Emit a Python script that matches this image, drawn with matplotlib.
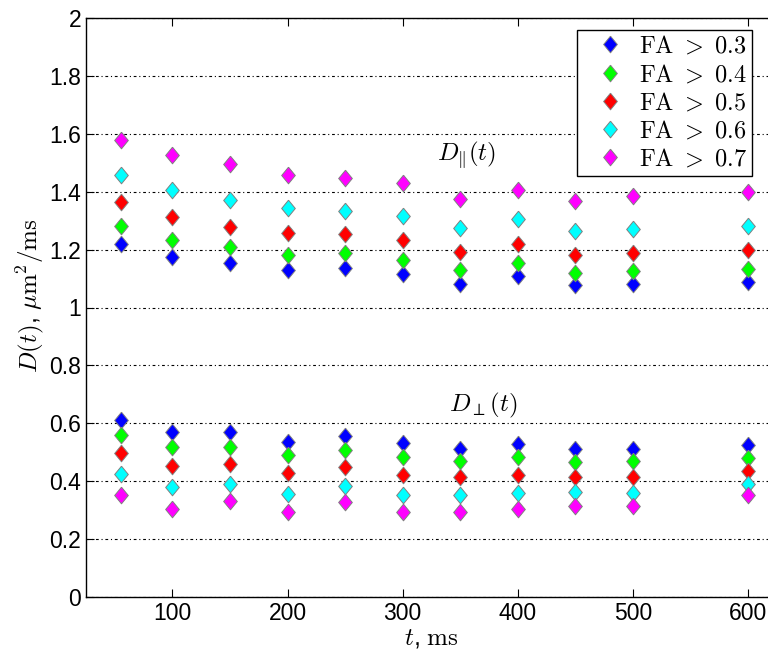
import matplotlib
matplotlib.use('Agg')
import matplotlib.pyplot as plt
import numpy as np

# diffusion time, ms
t = [55, 100, 150, 200, 250, 300, 350, 400, 450, 500, 600]

fa_labels = ['0.3', '0.4', '0.5', '0.6', '0.7']
colors = ['#0000ff', '#00ff00', '#ff0000', '#00ffff', '#ff00ff']

# parallel diffusivity D_par(t) for each FA threshold
d_par_03 = [1.221, 1.174, 1.155, 1.131, 1.137, 1.114, 1.082, 1.108, 1.076, 1.082, 1.088]
d_par_04 = [1.281, 1.233, 1.208, 1.183, 1.187, 1.163, 1.129, 1.155, 1.120, 1.126, 1.134]
d_par_05 = [1.364, 1.313, 1.279, 1.258, 1.255, 1.234, 1.191, 1.221, 1.183, 1.189, 1.198]
d_par_06 = [1.457, 1.406, 1.371, 1.345, 1.333, 1.317, 1.276, 1.304, 1.264, 1.272, 1.281]
d_par_07 = [1.579, 1.528, 1.497, 1.457, 1.449, 1.431, 1.374, 1.406, 1.368, 1.385, 1.399]

# perpendicular diffusivity D_perp(t)
d_perp_03 = [0.610, 0.569, 0.570, 0.536, 0.555, 0.532, 0.511, 0.528, 0.511, 0.511, 0.524]
d_perp_04 = [0.561, 0.518, 0.518, 0.489, 0.509, 0.483, 0.471, 0.482, 0.468, 0.471, 0.480]
d_perp_05 = [0.497, 0.453, 0.459, 0.428, 0.449, 0.420, 0.413, 0.422, 0.413, 0.414, 0.434]
d_perp_06 = [0.425, 0.380, 0.391, 0.355, 0.382, 0.353, 0.351, 0.359, 0.361, 0.359, 0.390]
d_perp_07 = [0.353, 0.304, 0.333, 0.292, 0.328, 0.292, 0.293, 0.303, 0.316, 0.315, 0.351]

d_par = [d_par_03, d_par_04, d_par_05, d_par_06, d_par_07]
d_perp = [d_perp_03, d_perp_04, d_perp_05, d_perp_06, d_perp_07]

plt.rcParams['mathtext.fontset'] = 'cm'
plt.rcParams['font.family'] = 'Liberation Sans'

# matlab style diamond, a bit taller than wide
diamond = [(0, 1), (0.82, 0), (0, -1), (-0.82, 0), (0, 1)]

fig = plt.figure(figsize=(7.68, 6.58), dpi=100)
ax = fig.add_axes([86 / 768, 61 / 658, 691 / 768, 579 / 658])

for i in range(5):
    ax.plot(t, d_par[i], linestyle='none', marker=diamond, markersize=12,
            markerfacecolor=colors[i], markeredgecolor='#808080',
            markeredgewidth=0.7, label=r'$\mathrm{FA}\ >\ ' + fa_labels[i] + '$',
            zorder=3)
    ax.plot(t, d_perp[i], linestyle='none', marker=diamond, markersize=12,
            markerfacecolor=colors[i], markeredgecolor='#808080',
            markeredgewidth=0.7, zorder=3)

ax.set_xlim(25, 625)
ax.set_ylim(0, 2)
ax.set_xticks([100, 200, 300, 400, 500, 600])
ax.set_yticks(np.arange(0, 2.01, 0.2))
ax.set_yticklabels(['0', '0.2', '0.4', '0.6', '0.8', '1', '1.2', '1.4', '1.6', '1.8', '2'])
ax.tick_params(direction='in', length=6, width=0.8, labelsize=16.5,
               top=True, right=True)
ax.yaxis.grid(True, color='black', linewidth=0.8, linestyle=(0, (2.5, 2.5, 1, 2.5)))
ax.set_axisbelow(True)
for s in ax.spines.values():
    s.set_linewidth(1.0)

ax.set_xlabel(r'$t$, $\mathrm{ms}$', fontsize=18, va='center')
ax.xaxis.set_label_coords(0.5, -0.071)
ax.set_ylabel(r'$D(t)$, $\mu\mathrm{m}^2/\mathrm{ms}$', fontsize=18, va='center')
ax.yaxis.set_label_coords(-0.081, 0.52)

ax.text(330, 1.525, r'$D_{\Vert}(t)$', fontsize=18, va='center', ha='left')
ax.text(340, 0.66, r'$D_{\perp}(t)$', fontsize=18, va='center', ha='left')

leg = ax.legend(loc='upper right', bbox_to_anchor=(0.964, 0.979), borderaxespad=0,
                numpoints=1, fontsize=17.5, fancybox=False, framealpha=1,
                edgecolor='black', handlelength=2.3, handletextpad=0.05,
                labelspacing=0.22, borderpad=0.2)
leg.get_frame().set_linewidth(1.0)

fig.savefig('out.png', dpi=100)
